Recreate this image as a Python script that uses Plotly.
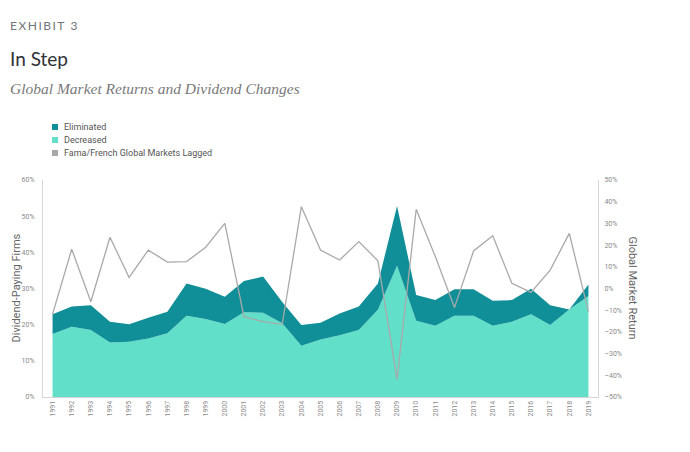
import plotly.graph_objects as go

years = list(range(1991, 2020))
decreased = [17.4, 19.4, 18.5, 15.1, 15.3, 16.2, 17.6, 22.5, 21.6, 20.2,
             23.4, 23.3, 20.4, 14.2, 15.9, 17.1, 18.5, 24.1, 36.3, 21.1,
             19.7, 22.5, 22.5, 19.7, 20.8, 22.9, 19.9, 24.2, 27.9]
total_changed = [22.9, 25.0, 25.4, 20.8, 20.1, 21.9, 23.6, 31.4, 29.9, 27.7,
                 32.1, 33.3, 26.3, 19.9, 20.5, 23.1, 25.0, 31.4, 52.8, 28.2,
                 26.8, 29.8, 29.8, 26.6, 26.8, 29.9, 25.4, 24.2, 31.1]
eliminated = [round(t - d, 1) for t, d in zip(total_changed, decreased)]
market_lagged = [-11.8, 18.1, -6.1, 23.6, 5.1, 17.7, 12.2, 12.4, 19.0, 30.0,
                 -13.0, -15.3, -16.5, 37.7, 17.7, 13.1, 21.6, 12.8, -41.9, 36.5,
                 14.7, -8.8, 17.3, 24.3, 2.4, -1.8, 8.5, 25.4, -10.7]

left_ticks = [0, 10, 20, 30, 40, 50, 60]
right_ticks = [-50, -40, -30, -20, -10, 0, 10, 20, 30, 40, 50]
legend_names = ["Eliminated", "Decreased", "Fama/French Global Markets Lagged"]

C_ELIM = "#118f98"
C_DEC = "#62dfc9"
C_LINE = "#a9a9a9"
TXT = "#8a8a8a"

fig = go.Figure()
fig.add_trace(go.Scatter(x=years, y=decreased, stackgroup="s", mode="none",
                         fillcolor=C_DEC, name="Decreased", showlegend=False))
fig.add_trace(go.Scatter(x=years, y=eliminated, stackgroup="s", mode="none",
                         fillcolor=C_ELIM, name="Eliminated", showlegend=False))
fig.add_trace(go.Scatter(x=years, y=market_lagged, mode="lines", yaxis="y2",
                         line=dict(color=C_LINE, width=1.3),
                         name="Fama/French Global Markets Lagged", showlegend=False))

fig.update_layout(
    width=690, height=452,
    margin=dict(l=43, r=92, t=180, b=55),
    paper_bgcolor="white", plot_bgcolor="white",
    font=dict(family="Roboto, Arial, sans-serif", color=TXT),
    showlegend=False,
    xaxis=dict(range=[1990.5, 2019.5], tickmode="array", tickvals=years,
               ticktext=[str(y) for y in years], tickangle=-90,
               tickfont=dict(size=7, color=TXT), showgrid=False,
               showline=True, linecolor="#d5d5d5", linewidth=1, zeroline=False,
               ticks=""),
    yaxis=dict(range=[0, 60], tickvals=left_ticks,
               ticktext=[f"{v}%" for v in left_ticks],
               tickfont=dict(size=7, color=TXT), showgrid=False,
               showline=True, linecolor="#d5d5d5", linewidth=1, zeroline=False,
               ticks="", ticklabelstandoff=6),
    yaxis2=dict(range=[-50, 50], tickvals=right_ticks,
                ticktext=[f"{v}%" if v >= 0 else f"\u2013{abs(v)}%" for v in right_ticks],
                overlaying="y", side="right",
                tickfont=dict(size=7, color=TXT), showgrid=False,
                showline=True, linecolor="#d5d5d5", linewidth=1, zeroline=False,
                ticks="", ticklabelstandoff=4),
)

def px_to_paper(x, y):
    return (x - 43) / 555, (397 - y) / 217

def spaced(s):
    return "\u2009".join(s)

annots = [
    dict(text=spaced("EXHIBIT") + "\u2009\u2009 " + "3", x=8, y=25,
         font=dict(size=12, color="#6f7478", family="Lato, sans-serif")),
    dict(text="In Step", x=8, y=58, font=dict(size=19, color="#2f3236",
         family="Lato, sans-serif")),
    dict(text="<i>Global Market Returns and Dividend Changes</i>", x=8, y=88,
         font=dict(size=15.5, color="#7a7a7a", family="Liberation Serif, serif")),
]
for a in annots:
    px, py = px_to_paper(a["x"], a["y"])
    fig.add_annotation(text=a["text"], x=px, y=py, xref="paper", yref="paper",
                       xanchor="left", yanchor="middle", showarrow=False,
                       font=a["font"])

# manual legend
for i, (name, col) in enumerate(zip(legend_names, [C_ELIM, C_DEC, C_LINE])):
    yc = 127 + 13 * i
    x0, y0 = px_to_paper(52, yc - 3)
    x1, y1 = px_to_paper(58, yc + 3)
    fig.add_shape(type="rect", xref="paper", yref="paper", x0=x0, x1=x1, y0=y0, y1=y1,
                  fillcolor=col, line=dict(width=0))
    tx, ty = px_to_paper(62, yc)
    fig.add_annotation(text=name, x=tx, y=ty, xref="paper", yref="paper",
                       xanchor="left", yanchor="middle", showarrow=False,
                       font=dict(size=9, color="#555"))

px, py = px_to_paper(7, 288)
fig.add_annotation(text="Dividend-Paying Firms", x=px, y=py, xref="paper", yref="paper",
                   textangle=-90, showarrow=False, font=dict(size=11, color="#666"))
px, py = px_to_paper(641, 288)
fig.add_annotation(text="Global Market Return", x=px, y=py, xref="paper", yref="paper",
                   textangle=90, showarrow=False, font=dict(size=11, color="#666"))

fig.write_html("out.html")
